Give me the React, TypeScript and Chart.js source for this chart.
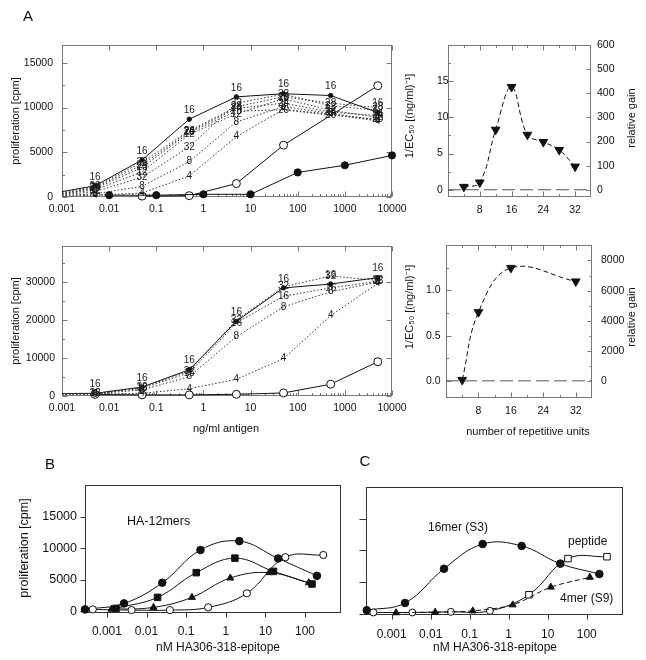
import React, { useEffect, useRef } from 'react';
import { Chart, registerables } from 'chart.js';
Chart.register(...registerables);

const FONT = "'Liberation Sans', Arial, Helvetica, sans-serif";
const INK = '#111';

// ---------------- data ----------------
// Panel A, top-left: proliferation vs ng/ml antigen
const A_DOSES = [0.001, 0.005, 0.05, 0.5, 5, 50, 500, 5000];
const A1_S16 = [600, 1250, 4150, 8700, 11200, 11550, 11350, 9450];
const A1_D4 = [100, 200, 450, 2350, 6750, 9800, 9250, 8500];
const A1_D8 = [150, 350, 1200, 3950, 8400, 10100, 9350, 8600];
const A1_D12 = [300, 800, 2800, 7000, 9300, 11000, 9700, 8900];
const A1_D20 = [350, 950, 3300, 7200, 9600, 9750, 9150, 8700];
const A1_D24 = [400, 1050, 3600, 7300, 9900, 10500, 9500, 9100];
const A1_D28 = [500, 1150, 3900, 7400, 10100, 11200, 10500, 10000];
const A1_D32 = [250, 600, 2200, 5600, 10500, 11500, 10200, 9700];
const A1_OPEN_X = [0.05, 0.5, 5, 50, 5000];
const A1_OPEN_Y = [100, 150, 1500, 5800, 12450];
const A1_FILLED_X = [0.01, 0.1, 1, 10, 100, 1000, 10000];
const A1_FILLED_Y = [200, 200, 300, 300, 2750, 3550, 4650];

// Panel A, bottom-left
const A2_S16 = [650, 700, 2350, 6900, 19600, 28400, 29400, 31100];
const A2_D32 = [600, 650, 2200, 6600, 19900, 28700, 31500, 30400];
const A2_D16 = [550, 600, 2000, 6100, 19200, 26200, 28400, 30100];
const A2_D8 = [500, 550, 1600, 5100, 15600, 23400, 27400, 29900];
const A2_D4 = [450, 500, 700, 1900, 4400, 9800, 21100, 29600];
const A2_OPEN_X = [0.005, 0.05, 0.5, 5, 50, 500, 5000];
const A2_OPEN_Y = [400, 300, 300, 450, 800, 3100, 9000];

// Panel A, right: 1/EC50 vs number of repetitive units
const UNITS_TOP = [4, 8, 12, 16, 20, 24, 28, 32];
const EC50_TOP = [0.4, 1.0, 8.3, 14.2, 7.6, 6.6, 5.5, 3.2];
const UNITS_BOT = [4, 8, 16, 32];
const EC50_BOT = [0.01, 0.76, 1.25, 1.1];
const ZERO_X = [0, 36];
const ZERO_Y = [0, 0];

// Panel B: HA-12mers
const B1_X = [0.00028, 0.0027, 0.025, 0.23, 2.2, 21, 200];
const B1_Y = [270, 1220, 4500, 9700, 11100, 8350, 5600];
const B2_X = [0.0017, 0.019, 0.18, 1.7, 16, 150];
const B2_Y = [430, 2180, 6100, 8400, 6300, 4300];
const B3_X = [0.0013, 0.015, 0.14, 1.3, 12.5, 125];
const B3_Y = [300, 590, 2180, 5250, 6100, 4500];
const B4_X = [0.00044, 0.0042, 0.039, 0.36, 3.4, 32, 290];
const B4_Y = [270, 160, 160, 590, 2820, 8550, 8900];

// Panel C
const C1_X = [0.00023, 0.0022, 0.022, 0.215, 2.15, 21, 210];
const C1_Y = [550, 1700, 7100, 11000, 10700, 7900, 6270];
const C2_X = [0.00034, 0.0034, 0.033, 0.33, 3.3, 33, 330];
const C2_Y = [200, 200, 300, 450, 3000, 8700, 9000];
const C3_X = [0.0013, 0.013, 0.12, 1.27, 12, 120];
const C3_Y = [150, 250, 450, 1400, 4200, 5750];

// tick values
const LOG_TICKS_A = [0.001, 0.01, 0.1, 1, 10, 100, 1000, 10000];
const LOG_TICKS_BC = [0.001, 0.01, 0.1, 1, 10, 100];
const UNIT_TICKS = [8, 16, 24, 32];
const UNIT_MINOR = [4, 12, 20, 28];
const A1_Y_TICKS = [0, 5000, 10000, 15000];
const A1_Y_MINOR = [2500, 7500, 12500];
const A2_Y_TICKS = [0, 10000, 20000, 30000];
const A2_Y_MINOR = [5000, 15000, 25000, 35000];
const R1_Y_TICKS = [0, 5, 10, 15];
const R1_Y_MINOR = [2.5, 7.5, 12.5, 17.5];
const R1_Y2_TICKS = [0, 100, 200, 300, 400, 500, 600];
const R2_Y_TICKS = [0, 0.5, 1.0];
const R2_Y_MINOR = [0.25, 0.75, 1.25];
const R2_Y2_TICKS = [0, 2000, 4000, 6000, 8000];
const R2_Y2_MINOR = [1000, 3000, 5000, 7000];
const BC_Y_TICKS = [0, 5000, 10000, 15000];

// ---------------- helpers ----------------
const pts = (xs: number[], ys: number[]) => xs.map((x, i) => ({ x, y: ys[i] }));
const minorLog = (dec: number[]) => {
  const out: number[] = [];
  for (let i = 0; i < dec.length - 1; i++) for (let k = 2; k <= 9; k++) out.push(dec[i] * k);
  return out;
};

type AxisOpt = {
  type: 'linear' | 'logarithmic';
  pos: 'left' | 'right' | 'bottom';
  min: number; max: number; ticks: number[]; size: number;
  font?: number; pad?: number; far?: boolean; hide?: boolean;
  fmt?: (v: number) => string;
};
function axis(o: AxisOpt) {
  const horiz = o.pos === 'bottom';
  return {
    type: o.type, position: o.pos, min: o.min, max: o.max,
    grid: { display: false, drawTicks: false },
    border: { display: false },
    ticks: {
      display: !o.hide, autoSkip: false, maxRotation: 0, minRotation: 0,
      padding: o.pad ?? 6, crossAlign: o.far ? 'far' : 'near', color: INK,
      font: { family: FONT, size: o.font ?? 10.5 },
      callback: (v: number) => (o.fmt ? o.fmt(v) : String(v)),
    },
    afterBuildTicks: (s: any) => { s.ticks = o.ticks.map((value) => ({ value })); },
    afterFit: (s: any) => { if (horiz) s.height = o.size; else s.width = o.size; },
  };
}

type Mark = { scale: string; edge: 'bottom' | 'top' | 'left' | 'right'; values: number[]; len: number; out?: boolean };
const framePlugin = (color: string, marks: Mark[]) => ({
  id: 'frame',
  beforeDatasetsDraw(chart: any) {
    const { ctx, chartArea: a } = chart;
    const L = Math.round(a.left) + 0.5, R = Math.round(a.right) - 0.5;
    const T = Math.round(a.top) + 0.5, B = Math.round(a.bottom) - 0.5;
    ctx.save();
    ctx.strokeStyle = color;
    ctx.lineWidth = 1;
    ctx.strokeRect(L, T, R - L, B - T);
    ctx.beginPath();
    marks.forEach((m) => {
      const s = chart.scales[m.scale];
      m.values.forEach((v) => {
        if (v < s.min || v > s.max) return;
        const p = Math.round(s.getPixelForValue(v)) + 0.5;
        const d = m.len * (m.out ? -1 : 1);
        if (m.edge === 'bottom') { ctx.moveTo(p, B); ctx.lineTo(p, B - d); }
        if (m.edge === 'top') { ctx.moveTo(p, T); ctx.lineTo(p, T + d); }
        if (m.edge === 'left') { ctx.moveTo(L, p); ctx.lineTo(L + d, p); }
        if (m.edge === 'right') { ctx.moveTo(R, p); ctx.lineTo(R - d, p); }
      });
    });
    ctx.stroke();
    ctx.restore();
  },
});

type TextItem = { t: string; x: number; y: number; size: number; rot?: number; align?: CanvasTextAlign };
const textPlugin = (origin: number[], items: TextItem[]) => ({
  id: 'texts',
  afterDraw(chart: any) {
    const ctx = chart.ctx;
    items.forEach((it) => {
      ctx.save();
      ctx.font = `${it.size}px ${FONT}`;
      ctx.fillStyle = INK;
      ctx.textAlign = it.align || 'center';
      ctx.textBaseline = 'middle';
      ctx.translate(it.x - origin[0], it.y - origin[1]);
      if (it.rot) ctx.rotate((it.rot * Math.PI) / 180);
      ctx.fillText(it.t, 0, 0);
      ctx.restore();
    });
  },
});

const labelPlugin = {
  id: 'numLabels',
  afterDatasetsDraw(chart: any) {
    const ctx = chart.ctx;
    chart.data.datasets.forEach((ds: any, i: number) => {
      if (!ds.numLabel) return;
      const meta = chart.getDatasetMeta(i);
      ctx.save();
      ctx.font = `10px ${FONT}`;
      ctx.fillStyle = '#1a1a1a';
      ctx.textAlign = 'center';
      ctx.textBaseline = 'middle';
      meta.data.forEach((el: any, j: number) => {
        if (j < (ds.labelFrom || 0)) return;
        ctx.fillText(ds.numLabel, el.x, el.y + (ds.labelDy || 0));
      });
      ctx.restore();
    });
  },
};

const dotted = (xs: number[], ys: number[], label: string) => ({
  data: pts(xs, ys), borderColor: '#333', borderWidth: 1, borderDash: [1.5, 2],
  pointRadius: 0, tension: 0, numLabel: label, labelFrom: 1, clip: 12,
});
const solidDots = (xs: number[], ys: number[], label: string) => ({
  data: pts(xs, ys), borderColor: INK, borderWidth: 1, tension: 0,
  pointRadius: xs.map((_, i) => (i === 0 ? 0 : 2.2)), pointBackgroundColor: INK, pointBorderColor: INK,
  numLabel: label, labelFrom: 1, labelDy: -9, clip: 12,
});
const marked = (xs: number[], ys: number[], o: any) => ({
  data: pts(xs, ys), borderColor: INK, borderWidth: 1, tension: 0, clip: 12,
  pointBorderColor: INK, pointBorderWidth: 1, ...o,
});

type Spec = {
  origin: number[]; size: number[]; padding: any; scales: any; datasets: any[];
  frame: string; marks: Mark[]; texts: TextItem[];
};

const A_MINOR = minorLog(LOG_TICKS_A);

const SPECS: Spec[] = [
  // A top-left
  {
    origin: [0, 0], size: [414, 230], padding: { left: 0, top: 45, right: 22, bottom: 0 },
    scales: {
      x: axis({ type: 'logarithmic', pos: 'bottom', min: 0.001, max: 10000, ticks: LOG_TICKS_A, size: 33, pad: 6 }),
      y: axis({ type: 'linear', pos: 'left', min: 0, max: 17000, ticks: A1_Y_TICKS, size: 62, pad: 9 }),
    },
    datasets: [
      dotted(A_DOSES, A1_D4, '4'), dotted(A_DOSES, A1_D8, '8'), dotted(A_DOSES, A1_D32, '32'),
      dotted(A_DOSES, A1_D12, '12'), dotted(A_DOSES, A1_D20, '20'), dotted(A_DOSES, A1_D24, '24'),
      dotted(A_DOSES, A1_D28, '28'),
      marked(A1_FILLED_X, A1_FILLED_Y, { pointRadius: 3.6, pointBackgroundColor: INK }),
      marked(A1_OPEN_X, A1_OPEN_Y, { pointRadius: 4, pointBackgroundColor: '#fff' }),
      solidDots(A_DOSES, A1_S16, '16'),
    ],
    frame: '#777',
    marks: [
      { scale: 'x', edge: 'bottom', values: LOG_TICKS_A, len: 5 },
      { scale: 'x', edge: 'bottom', values: A_MINOR, len: 2.5 },
      { scale: 'x', edge: 'top', values: LOG_TICKS_A, len: 5 },
      { scale: 'y', edge: 'left', values: A1_Y_TICKS, len: 5 },
      { scale: 'y', edge: 'left', values: A1_Y_MINOR, len: 2.5 },
      { scale: 'y', edge: 'right', values: A1_Y_TICKS, len: 5 },
    ],
    texts: [
      { t: 'A', x: 28, y: 17, size: 15 },
      { t: 'proliferation [cpm]', x: 16, y: 121, size: 11, rot: -90 },
    ],
  },
  // A top-right
  {
    origin: [400, 30], size: [246, 200], padding: { left: 37, top: 15, right: 0, bottom: 0 },
    scales: {
      x: axis({ type: 'linear', pos: 'bottom', min: 0, max: 36, ticks: UNIT_TICKS, size: 33, pad: 7 }),
      y: axis({ type: 'linear', pos: 'left', min: -1, max: 20, ticks: R1_Y_TICKS, size: 11, pad: 0, far: true }),
      y2: axis({ type: 'linear', pos: 'right', min: -30, max: 600, ticks: R1_Y2_TICKS, size: 55, pad: 6 }),
    },
    datasets: [
      marked(ZERO_X, ZERO_Y, { borderColor: '#555', borderDash: [13, 5], pointRadius: 0 }),
      marked(UNITS_TOP, EC50_TOP, { borderDash: [5, 3], tension: 0.4, pointStyle: 'triangle', rotation: 180, pointRadius: 5, pointBackgroundColor: INK }),
    ],
    frame: '#777',
    marks: [
      { scale: 'x', edge: 'bottom', values: UNIT_TICKS, len: 5 },
      { scale: 'x', edge: 'bottom', values: UNIT_MINOR, len: 2.5 },
      { scale: 'x', edge: 'top', values: UNIT_TICKS, len: 5 },
      { scale: 'x', edge: 'top', values: UNIT_MINOR, len: 2.5 },
      { scale: 'y', edge: 'left', values: R1_Y_TICKS, len: 5 },
      { scale: 'y', edge: 'left', values: R1_Y_MINOR, len: 2.5 },
      { scale: 'y2', edge: 'right', values: R1_Y2_TICKS, len: 4 },
    ],
    texts: [
      { t: '1/EC₅₀ [(ng/ml)⁻¹]', x: 410, y: 116, size: 11, rot: -90 },
      { t: 'relative gain', x: 632, y: 118, size: 11, rot: -90 },
    ],
  },
  // A bottom-left
  {
    origin: [0, 230], size: [414, 210], padding: { left: 0, top: 16, right: 22, bottom: 0 },
    scales: {
      x: axis({ type: 'logarithmic', pos: 'bottom', min: 0.001, max: 10000, ticks: LOG_TICKS_A, size: 44, pad: 6 }),
      y: axis({ type: 'linear', pos: 'left', min: 0, max: 39400, ticks: A2_Y_TICKS, size: 62, pad: 7 }),
    },
    datasets: [
      dotted(A_DOSES, A2_D4, '4'), dotted(A_DOSES, A2_D8, '8'), dotted(A_DOSES, A2_D16, '16'),
      dotted(A_DOSES, A2_D32, '32'),
      marked(A2_OPEN_X, A2_OPEN_Y, { pointRadius: 4, pointBackgroundColor: '#fff' }),
      solidDots(A_DOSES, A2_S16, '16'),
    ],
    frame: '#777',
    marks: [
      { scale: 'x', edge: 'bottom', values: LOG_TICKS_A, len: 5 },
      { scale: 'x', edge: 'bottom', values: A_MINOR, len: 2.5 },
      { scale: 'x', edge: 'top', values: LOG_TICKS_A, len: 5 },
      { scale: 'y', edge: 'left', values: A2_Y_TICKS, len: 5 },
      { scale: 'y', edge: 'left', values: A2_Y_MINOR, len: 2.5 },
      { scale: 'y', edge: 'right', values: A2_Y_TICKS, len: 5 },
    ],
    texts: [
      { t: 'proliferation [cpm]', x: 16, y: 321, size: 11, rot: -90 },
      { t: 'ng/ml antigen', x: 226, y: 429, size: 11 },
    ],
  },
  // A bottom-right
  {
    origin: [400, 230], size: [246, 210], padding: { left: 26, top: 14, right: 0, bottom: 0 },
    scales: {
      x: axis({ type: 'linear', pos: 'bottom', min: 0, max: 36, ticks: UNIT_TICKS, size: 42, pad: 7 }),
      y: axis({ type: 'linear', pos: 'left', min: -0.19, max: 1.5, ticks: R2_Y_TICKS, size: 20, pad: 0, far: true, fmt: (v) => v.toFixed(1) }),
      y2: axis({ type: 'linear', pos: 'right', min: -1100, max: 9000, ticks: R2_Y2_TICKS, size: 54, pad: 9 }),
    },
    datasets: [
      marked(ZERO_X, ZERO_Y, { borderColor: '#555', borderDash: [13, 5], pointRadius: 0 }),
      marked(UNITS_BOT, EC50_BOT, { borderDash: [5, 3], tension: 0.4, pointStyle: 'triangle', rotation: 180, pointRadius: 5, pointBackgroundColor: INK }),
    ],
    frame: '#777',
    marks: [
      { scale: 'x', edge: 'bottom', values: UNIT_TICKS, len: 5 },
      { scale: 'x', edge: 'bottom', values: UNIT_MINOR, len: 2.5 },
      { scale: 'x', edge: 'top', values: UNIT_TICKS, len: 5 },
      { scale: 'x', edge: 'top', values: UNIT_MINOR, len: 2.5 },
      { scale: 'y', edge: 'left', values: R2_Y_TICKS, len: 5 },
      { scale: 'y', edge: 'left', values: R2_Y_MINOR, len: 2.5 },
      { scale: 'y2', edge: 'right', values: R2_Y2_TICKS, len: 4 },
      { scale: 'y2', edge: 'right', values: R2_Y2_MINOR, len: 2 },
    ],
    texts: [
      { t: '1/EC₅₀ [(ng/ml)⁻¹]', x: 410, y: 307, size: 11, rot: -90 },
      { t: 'relative gain', x: 632, y: 317, size: 11, rot: -90 },
      { t: 'number of repetitive units', x: 528, y: 432, size: 11 },
    ],
  },
  // B
  {
    origin: [0, 440], size: [350, 220], padding: { left: 0, top: 45, right: 9, bottom: 0 },
    scales: {
      x: axis({ type: 'logarithmic', pos: 'bottom', min: 0.00028, max: 810, ticks: LOG_TICKS_BC, size: 47, pad: 11, font: 12 }),
      y: axis({ type: 'linear', pos: 'left', min: -300, max: 20000, ticks: BC_Y_TICKS, size: 85, pad: 8, font: 12.5 }),
    },
    datasets: [
      marked(B4_X, B4_Y, { tension: 0.4, pointRadius: 3.6, pointBackgroundColor: '#fff' }),
      marked(B3_X, B3_Y, { tension: 0.4, pointStyle: 'triangle', pointRadius: 4, pointBackgroundColor: INK }),
      marked(B2_X, B2_Y, { tension: 0.4, pointStyle: 'rect', pointRadius: 4.6, pointBackgroundColor: INK }),
      marked(B1_X, B1_Y, { tension: 0.4, pointRadius: 3.8, pointBackgroundColor: INK }),
    ],
    frame: '#333',
    marks: [
      { scale: 'x', edge: 'bottom', values: LOG_TICKS_BC, len: 5, out: true },
      { scale: 'y', edge: 'left', values: BC_Y_TICKS, len: 5, out: true },
    ],
    texts: [
      { t: 'B', x: 50, y: 465, size: 15 },
      { t: 'proliferation [cpm]', x: 25, y: 548, size: 12.5, rot: -90 },
      { t: 'nM HA306-318-epitope', x: 218, y: 648, size: 12 },
      { t: 'HA-12mers', x: 127, y: 522, size: 12.5, align: 'left' },
    ],
  },
  // C
  {
    origin: [350, 440], size: [296, 220], padding: { left: 0, top: 47, right: 23, bottom: 0 },
    scales: {
      x: axis({ type: 'logarithmic', pos: 'bottom', min: 0.00022, max: 850, ticks: LOG_TICKS_BC, size: 45, pad: 12, font: 12 }),
      y: axis({ type: 'linear', pos: 'left', min: -200, max: 20000, ticks: BC_Y_TICKS, size: 16, hide: true }),
    },
    datasets: [
      marked(C3_X, C3_Y, { tension: 0.3, borderDash: [5, 3], pointStyle: 'triangle', pointRadius: 4, pointBackgroundColor: INK }),
      marked(C2_X, C2_Y, {
        tension: 0.4, pointBackgroundColor: '#fff',
        pointStyle: ['circle', 'circle', 'circle', 'circle', 'rect', 'rect', 'rect'],
        pointRadius: [3.5, 3.5, 3.5, 3.5, 4.6, 4.6, 4.6],
      }),
      marked(C1_X, C1_Y, { tension: 0.4, pointRadius: 3.8, pointBackgroundColor: INK }),
    ],
    frame: '#333',
    marks: [
      { scale: 'x', edge: 'bottom', values: LOG_TICKS_BC, len: 5, out: true },
      { scale: 'y', edge: 'left', values: BC_Y_TICKS, len: 7, out: true },
    ],
    texts: [
      { t: 'C', x: 365, y: 462, size: 15 },
      { t: 'nM HA306-318-epitope', x: 495, y: 648, size: 12 },
      { t: '16mer (S3)', x: 428, y: 528, size: 12, align: 'left' },
      { t: 'peptide', x: 568, y: 542, size: 12, align: 'left' },
      { t: '4mer (S9)', x: 560, y: 599, size: 12, align: 'left' },
    ],
  },
];

function Panel({ spec }: { spec: Spec }) {
  const ref = useRef<HTMLCanvasElement>(null);
  useEffect(() => {
    const chart = new Chart(ref.current as HTMLCanvasElement, {
      type: 'line',
      data: { datasets: spec.datasets as any },
      options: {
        animation: false,
        responsive: false,
        devicePixelRatio: 1,
        events: [],
        layout: { padding: spec.padding },
        plugins: { legend: { display: false }, tooltip: { enabled: false } },
        scales: spec.scales,
      } as any,
      plugins: [framePlugin(spec.frame, spec.marks), labelPlugin, textPlugin(spec.origin, spec.texts)] as any,
    });
    return () => chart.destroy();
  }, [spec]);
  return (
    <canvas
      ref={ref}
      width={spec.size[0]}
      height={spec.size[1]}
      style={{ position: 'absolute', left: spec.origin[0], top: spec.origin[1], width: spec.size[0], height: spec.size[1] }}
    />
  );
}

export default function App() {
  Chart.defaults.font.family = FONT;
  Chart.defaults.color = INK;
  return (
    <div style={{ position: 'absolute', left: 0, top: 0, width: 646, height: 660, background: '#fff', overflow: 'hidden' }}>
      {SPECS.map((s, i) => (
        <Panel key={i} spec={s} />
      ))}
    </div>
  );
}
